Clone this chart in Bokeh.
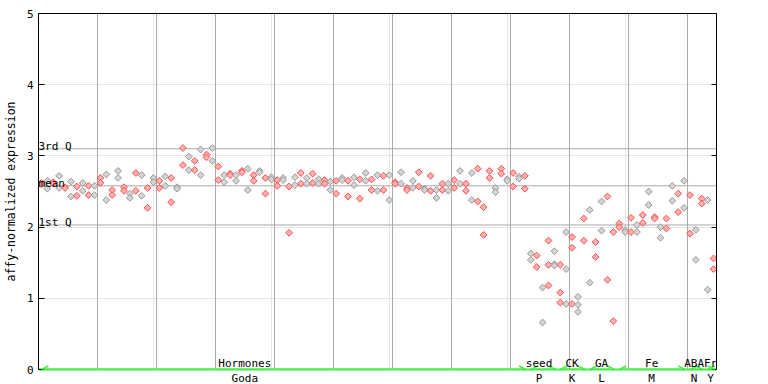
import numpy as np
from bokeh.plotting import figure
from bokeh.models import (ColumnDataSource, Span, Label, LabelSet, LinearAxis,
                          FixedTicker, Range1d, Arrow, OpenHead, Grid)
from bokeh.embed import file_html
from bokeh.resources import INLINE
from bokeh.core.properties import value

# ---------------- data ----------------
group_names = ["Hormones", "seed", "CK", "GA", "Fe", "ABA", "Fr"]
group_codes = ["Goda", "P", "K", "L", "M", "N", "Y"]

hormones = [
    [2.62, 2.60], [2.65, 2.54], [2.63, 2.61], [2.72, 2.55], [2.56, 2.55],
    [2.64, 2.43], [2.57, 2.44], [2.62, 2.51], [2.58, 2.45], [2.58, 2.45],
    [2.69, 2.62], [2.74, 2.38], [2.52, 2.45], [2.79, 2.69], [2.56, 2.51],
    [2.47, 2.41], [2.76, 2.51], [2.73, 2.44], [2.55, 2.27], [2.69, 2.63],
    [2.65, 2.55], [2.71, 2.58], [2.69, 2.35], [2.56, 2.54], [3.11, 2.87],
    [2.99, 2.80], [2.93, 2.80], [3.09, 2.73], [3.02, 2.98], [3.11, 2.93],
    [2.85, 2.66], [2.73, 2.63], [2.75, 2.73], [2.73, 2.65], [2.79, 2.77],
    [2.82, 2.52], [2.73, 2.65], [2.79, 2.77], [2.69, 2.47], [2.70, 2.67],
    [2.66, 2.58], [2.69, 2.66], [2.57, 1.92], [2.70, 2.59], [2.76, 2.61],
    [2.69, 2.61], [2.75, 2.62], [2.67, 2.61], [2.66, 2.61], [2.64, 2.52],
    [2.65, 2.47], [2.69, 2.66], [2.65, 2.43], [2.70, 2.59], [2.67, 2.40],
    [2.76, 2.65], [2.67, 2.52], [2.73, 2.51], [2.72, 2.52], [2.73, 2.38],
    [2.63, 2.61], [2.77, 2.61], [2.55, 2.52], [2.65, 2.55], [2.77, 2.57],
    [2.54, 2.52], [2.72, 2.51], [2.52, 2.41], [2.61, 2.52], [2.61, 2.51],
    [2.66, 2.55], [2.79, 2.61], [2.61, 2.51], [2.76, 2.38], [2.82, 2.36],
    [2.28, 1.89], [2.79, 2.69], [2.55, 2.49], [2.82, 2.75], [2.67, 2.65],
    [2.76, 2.57], [2.71, 2.68], [2.72, 2.54],
]
seed = [[1.63, 1.54], [1.60, 1.44], [1.15, 0.66], [1.81, 1.47, 1.18],
        [1.66, 1.48, 1.46]]
ck = [[1.47, 1.08, 0.94], [1.93, 1.41, 0.92], [1.86, 1.71, 0.92],
      [1.02, 0.91, 0.81], [2.12, 1.81]]
ga = [[2.24, 1.22], [1.79, 1.58], [2.36, 1.95], [2.43, 1.26], [1.93, 0.68]]
fe = [[2.05, 2.00], [1.96, 1.93], [2.13, 1.93], [2.03, 1.93], [2.17, 2.06],
      [2.50, 2.31], [2.14, 2.12], [2.00, 1.85], [2.12, 1.98], [2.58, 2.37],
      [2.47, 2.21], [2.65, 2.27]]
aba = [[2.45, 1.91], [1.96, 1.54], [2.40, 2.33]]
fr = [[2.38, 1.12], [1.56, 1.41]]
group_values = [hormones, seed, ck, ga, fe, aba, fr]

# samples drawn in red although they fall on a "grey" position of the alternation
red_exceptions = [76, 98]

y_ticks = [0, 1, 2, 3, 4, 5]
y_title = "affy-normalized expression"
stat_names = ["3rd Q", "mean", "1st Q"]
stat_values = [3.10, 2.58, 2.03]

# ---------------- styles ----------------
FONT = "DejaVu Sans Mono"
FS = "11px"
RED_LINE, RED_FILL = "#ff4d4d", "#ffb0b0"
GREY_LINE, GREY_FILL = "#9a9a9a", "#d4d4d4"
GREEN = "#44ee44"
GRIDC = "#aaaaaa"
LABEL_SHIFT = {"Hormones": -6.5, "seed": -0.6, "ABA": -0.3}

# ---------------- build point table ----------------
xs, ys, lc, fc = [], [], [], []
spans = []
s = 0
for vals in group_values:
    first = s + 1
    for col in vals:
        s += 1
        red = ((s - 1) % 2 == 0) or (s in red_exceptions)
        for v in col:
            xs.append(s)
            ys.append(v)
            lc.append(RED_LINE if red else GREY_LINE)
            fc.append(RED_FILL if red else GREY_FILL)
    spans.append((first, s))
n_samples = s

src = ColumnDataSource(dict(x=xs, y=ys, lc=lc, fc=fc))

p = figure(frame_width=678, frame_height=356,
           x_range=Range1d(0.5, n_samples + 0.5), y_range=Range1d(0, 5),
           x_axis_location=None, y_axis_location=None,
           output_backend="svg", toolbar_location=None,
           min_border_left=37, min_border_right=53,
           min_border_top=13, min_border_bottom=15)
p.outline_line_color = None
p.background_fill_color = "white"
p.border_fill_color = "white"

# vertical grid every 10 samples
p.add_layout(Grid(dimension=0,
                  ticker=FixedTicker(ticks=[10.5 + 10 * i for i in range(n_samples // 10)]),
                  grid_line_color=GRIDC, grid_line_width=1))

for nm, v in zip(stat_names, stat_values):
    p.add_layout(Span(location=v, dimension="width", line_color=GRIDC,
                      line_width=1, level="underlay"))
    p.add_layout(Label(x=0.5, y=v, x_offset=0, y_offset=2, text=nm,
                       text_font=FONT, text_font_size=FS, text_color="black",
                       text_baseline="alphabetic"))

p.scatter("x", "y", source=src, marker="square", angle=np.pi / 4, size=4.8,
          line_color="lc", fill_color="fc", line_width=1)

# axes
def style_axis(ax):
    ax.major_label_text_font = FONT
    ax.major_label_text_font_size = FS
    ax.major_label_text_color = "black"
    ax.minor_tick_line_color = None
    return ax

left = style_axis(LinearAxis(ticker=FixedTicker(ticks=y_ticks)))
left.major_tick_in = 6
left.major_tick_out = 0
left.major_label_standoff = 5
left.axis_line_color = "black"
left.axis_label = y_title
left.axis_label_text_font = FONT
left.axis_label_text_font_size = "11.5px"
left.axis_label_text_font_style = "normal"
left.axis_label_text_color = "black"
left.axis_label_standoff = 6
p.add_layout(left, "left")

right = style_axis(LinearAxis(ticker=FixedTicker(ticks=y_ticks)))
right.major_tick_in = 5
right.major_tick_out = 0
right.major_label_overrides = {t: "" for t in y_ticks}
right.axis_line_color = "black"
p.add_layout(right, "right")

top = style_axis(LinearAxis(ticker=FixedTicker(ticks=[])))
top.major_tick_in = 0
top.major_tick_out = 0
top.axis_line_color = "black"
p.add_layout(top, "above")

centers = []
for nm, (a, b) in zip(group_names, spans):
    centers.append((a + b) / 2 + LABEL_SHIFT.get(nm, 0))

bottom = style_axis(LinearAxis(ticker=FixedTicker(ticks=centers)))
bottom.major_label_overrides = {c: code for c, code in zip(centers, group_codes)}
bottom.major_tick_in = 0
bottom.major_tick_out = 0
bottom.major_label_standoff = 2
bottom.axis_line_color = GREEN
bottom.axis_line_width = 2
p.add_layout(bottom, "below")

for (a, b) in spans:
    p.add_layout(Arrow(start=OpenHead(size=7, line_color=GREEN, line_width=1.5),
                       end=OpenHead(size=7, line_color=GREEN, line_width=1.5),
                       x_start=a, x_end=b + 0.2, y_start=0, y_end=0,
                       line_color=GREEN, line_width=2))

gsrc = ColumnDataSource(dict(x=centers, y=[0] * len(centers), t=group_names))
p.add_layout(LabelSet(x="x", y="y", text="t", source=gsrc, y_offset=3,
                      text_align="center", text_baseline="alphabetic",
                      text_font=value(FONT), text_font_size=value(FS),
                      text_color="black"))

open("out.html", "w").write(file_html(p, INLINE))
